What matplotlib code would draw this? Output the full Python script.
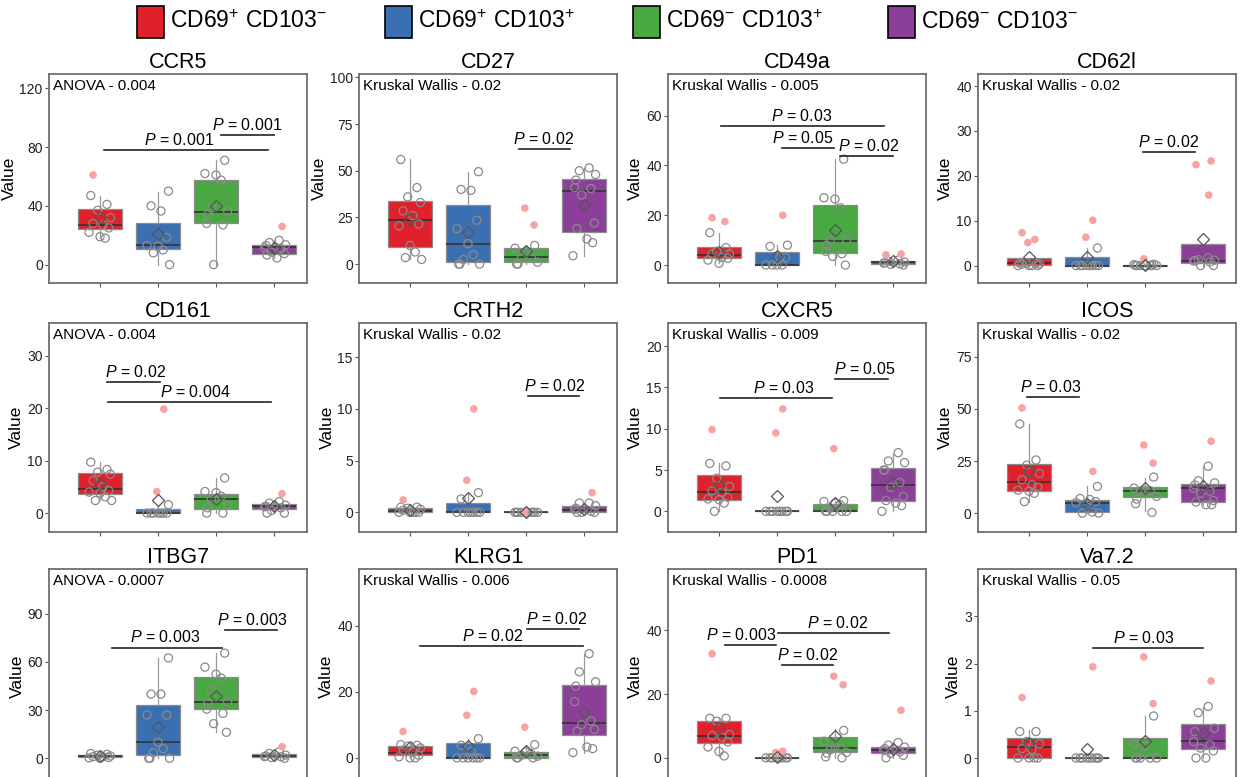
import matplotlib
matplotlib.use('Agg')
import matplotlib.pyplot as plt
from matplotlib.patches import Rectangle

plt.rcParams['font.family'] = ['Liberation Sans', 'DejaVu Sans']
plt.rcParams['mathtext.fontset'] = 'custom'
plt.rcParams['mathtext.rm'] = 'Liberation Sans'
plt.rcParams['mathtext.it'] = 'Liberation Sans:italic'
plt.rcParams['mathtext.bf'] = 'Liberation Sans:bold'

# ---------------- data ----------------
groups = [r'CD69$^{+}$ CD103$^{-}$', r'CD69$^{+}$ CD103$^{+}$',
          r'CD69$^{-}$ CD103$^{+}$', r'CD69$^{-}$ CD103$^{-}$']
colors = ['#E0202A', '#3A70B2', '#4AA843', '#8B3F98']

# box stats per group: (whisker low, q1, median, q3, whisker high, mean)
# significance: (x start, x end, height, p, label centre)
ccr5_box = [(18, 24.3, 27.3, 38.0, 47, 32.3), (0, 10.9, 13.2, 28.0, 49.5, 20.5),
            (0, 28.0, 35.5, 57.7, 71, 40), (4.5, 7.5, 12.0, 13.6, 16.5, 11.5)]
ccr5_pts = [[47, 41, 37, 32, 28, 27, 25, 22, 19, 18], [50, 40, 36.5, 18.5, 13, 12.5, 10, 8, 0],
            [71, 62, 61, 57.5, 38.5, 36.5, 34, 28, 27, 0], [16.5, 15, 13.5, 13, 11.5, 11, 8.5, 7.5, 6.5, 4.5]]
ccr5_out = [[61], [], [], [26]]
ccr5_sig = [(1.07, 3.89, 77.7, '0.001', 2.36), (3.09, 4.0, 88.2, '0.001', 3.53)]

cd27_box = [(2.5, 9.0, 23.8, 33.8, 56.3, 24.4), (0, 1.1, 11.0, 31.4, 49.3, 17),
            (0, 0.9, 3.8, 8.8, 10.3, 7), (4.3, 17.3, 39, 45.5, 51.3, 31.8)]
cd27_pts = [[56, 41, 36, 33, 28.5, 26, 21.5, 20.5, 10, 6.5, 3.5, 2.5],
            [49.5, 40, 39.5, 23.5, 19, 11, 5, 2.5, 0, 0, 0],
            [10, 8.5, 7, 3.5, 3, 1, 0, 0],
            [51.5, 50, 48, 45, 41, 40.5, 37, 22, 19, 13.5, 11.5, 4.5]]
cd27_out = [[], [], [30, 21], []]
cd27_sig = [(2.88, 3.76, 61.4, '0.02', 3.31)]

cd49a_box = [(0.7, 2.7, 3.9, 7.2, 12.9, 5.4), (0, 0, 0, 5.4, 8.1, 3.7),
             (0, 5, 9.6, 24, 42.7, 14.2), (0, 0.4, 1.1, 1.8, 2.5, 1.5)]
cd49a_pts = [[13, 7, 5.5, 4.5, 4.5, 3, 2.7, 2, 0.7], [8, 7.5, 3, 3, 0, 0, 0, 0],
             [42.5, 27, 26.5, 23, 10, 10, 8, 5.5, 4.5, 3.5, 0], [2, 1.5, 1.2, 1, 0.8, 0.5, 0.3, 0]]
cd49a_out = [[19, 17.5], [20], [], [4.5, 4.1]]
cd49a_sig = [(1.03, 3.85, 55.9, '0.03', 2.42), (2.08, 2.98, 47.1, '0.05', 2.44),
             (3.08, 4.0, 43.8, '0.02', 3.58)]

cd62l_box = [(0, 0.1, 0.6, 1.6, 1.6, 1.9), (0, 0, 0, 2.0, 3.9, 1.9),
             (0, 0, 0, 0.1, 0.1, 0.15), (0, 0.5, 1.1, 4.9, 4.9, 5.8)]
cd62l_pts = [[0.5, 0.5, 0.5, 0.3, 0.3, 0, 0, 0, 0], [3.9, 0, 0, 0, 0, 0, 0, 0, 0],
             [0.3, 0.2, 0, 0, 0, 0, 0, 0, 0], [1.7, 1.3, 1.2, 1.1, 1.0, 0.8, 0, 0]]
cd62l_out = [[7.3, 5.8, 5.1], [10.1, 6.3], [1.5], [23.3, 22.5, 15.7]]
cd62l_sig = [(2.97, 3.87, 25.4, '0.02', 3.41)]

cd161_box = [(2.4, 3.6, 4.6, 7.6, 9.7, 5.5), (0, 0, 0.1, 0.8, 1.4, 2.4),
             (0, 0.8, 2.7, 3.6, 6.6, 2.7), (0, 0.8, 1.3, 1.8, 2.3, 1.4)]
cd161_pts = [[9.7, 8.3, 7.8, 7.4, 6.2, 5, 4.3, 4, 3.8, 3.1, 2.4, 2.4], [1.6, 0, 0, 0, 0, 0, 0, 0],
             [6.7, 4.1, 3.9, 3.2, 2.7, 1.5, 1, 0, 0], [2.2, 1.9, 1.5, 1.3, 1.2, 1, 0.5, 0, 0]]
cd161_out = [[], [19.8, 4.1], [], [3.7]]
cd161_sig = [(1.12, 2.03, 24.9, '0.02', 1.61), (1.13, 3.95, 21.2, '0.004', 2.64)]

crth2_box = [(0, 0, 0.1, 0.42, 0.5, 0.25), (0, 0, 0, 0.9, 1.9, 1.4),
             (0, 0, 0, 0, 0, 0.05), (0, 0.03, 0.26, 0.58, 0.9, 0.35)]
crth2_pts = [[0.5, 0.5, 0.4, 0.3, 0.2, 0, 0, 0, 0, 0], [1.9, 1.3, 0, 0, 0, 0, 0, 0, 0],
             [0, 0, 0, 0, 0, 0, 0, 0, 0], [0.9, 0.9, 0.65, 0.4, 0.3, 0.1, 0, 0, 0]]
crth2_out = [[1.2], [10, 3.1], [0.1], [1.9]]
crth2_sig = [(3.03, 3.92, 11.2, '0.02', 3.5)]

cxcr5_box = [(0, 1.4, 2.4, 4.4, 5.8, 3.2), (0, 0, 0, 0, 0, 1.9),
             (0, 0, 0.1, 0.9, 1.3, 1.0), (0, 1.2, 3.2, 5.3, 7.0, 3.4)]
cxcr5_pts = [[5.8, 5.5, 4, 3, 2.5, 2.3, 1.7, 1.5, 1.4, 1, 0], [0, 0, 0, 0, 0, 0, 0, 0],
             [1.3, 1.2, 1, 0.8, 0.4, 0, 0, 0, 0, 0], [7.1, 6.1, 5.9, 5, 5, 3.5, 2.9, 1.8, 1.3, 1, 0.7, 0]]
cxcr5_out = [[9.9], [12.4, 9.5], [7.6], []]
cxcr5_sig = [(1.02, 2.95, 13.7, '0.03', 2.12), (3.0, 3.91, 16.0, '0.05', 3.52)]

icos_box = [(5.3, 10.4, 14.7, 23.7, 42.8, 20), (0, 0.3, 4.8, 6.4, 12.8, 4.5),
            (0.8, 7.5, 10.7, 12.5, 16.8, 12), (4, 5.3, 12, 14.1, 22.4, 12.8)]
icos_pts = [[42.8, 25.5, 23, 19, 16, 13.5, 12.5, 11, 10.5, 9.5, 5.5], [12.8, 7, 6.5, 5.5, 5, 4, 0.5, 0, 0],
            [17.3, 12, 11, 10.7, 10.5, 8, 6.7, 4.5, 0.3], [22.5, 15.5, 14.5, 13.5, 12, 10.5, 9.5, 6, 5.3, 4, 4]]
icos_out = [[50.5], [20], [32.7, 24], [34.5]]
icos_sig = [(0.96, 1.87, 55.8, '0.03', 1.38)]

itbg7_box = [(0, 0.6, 1.5, 2.1, 3, 1.3), (0, 2.1, 10, 33.3, 62.4, 19.8),
             (16.2, 30.6, 34.9, 50.5, 65.5, 38.7), (0, 0.6, 1.5, 2.5, 4, 2)]
itbg7_pts = [[3, 2.5, 2, 1.5, 1, 1, 0.5, 0.3, 0], [62.5, 40, 40, 27, 27, 10, 6, 3.5, 0, 0, 0],
             [65.5, 56.8, 52.4, 50, 42.6, 35.3, 34.5, 30.6, 28, 21.6, 16.2], [4, 3, 2, 1.5, 1, 1, 0.5, 0]]
itbg7_out = [[], [], [], [7.3]]
itbg7_sig = [(1.2, 3.11, 69, '0.003', 2.12), (3.15, 4.05, 80, '0.003', 3.62)]

klrg1_box = [(0, 0.8, 1.5, 3.5, 4.3, 3.3), (0, 0, 0, 4.6, 5.8, 3.6),
             (0, 0, 0.8, 1.8, 3.6, 2), (1.6, 6.8, 10.6, 21.9, 31.5, 13.9)]
klrg1_pts = [[4, 3.8, 3.5, 3, 2.3, 1.8, 0.8, 0.3, 0, 0], [5.8, 3.8, 2, 0, 0, 0, 0, 0, 0],
             [4, 2, 1.8, 1.3, 0.8, 0.5, 0, 0, 0], [31.5, 26, 23, 21.7, 17, 11.2, 10, 8.6, 8, 3.3, 2.8, 1.6]]
klrg1_out = [[8], [20.1, 12.9], [9.3], []]
klrg1_sig = [(1.17, 3.99, 33.7, '0.02', 2.43), (3.01, 3.91, 39.0, '0.02', 3.52)]

pd1_box = [(0.6, 4.5, 6.8, 11.6, 12.6, 9.2), (0, 0, 0, 0, 0, 0.3),
           (0, 1.7, 3.1, 6.4, 8.9, 6.8), (0, 1.6, 2.4, 3.4, 5, 2.9)]
pd1_pts = [[12.4, 12.4, 11.5, 7.3, 7, 6.5, 5, 3.4, 2, 0.6], [0, 0, 0, 0, 0, 0, 0, 0],
           [8.6, 5.2, 3.6, 3, 2.6, 1.7, 1.5, 0.3, 0], [4.8, 4, 3.4, 2.9, 2.4, 1.9, 1.4, 0.8, 0]]
pd1_out = [[32.6], [2.1, 1.7], [25.6, 22.9], [14.9]]
pd1_sig = [(1.1, 1.99, 35.4, '0.003', 1.38), (2.01, 3.94, 39.1, '0.02', 3.04),
           (2.08, 2.96, 29.0, '0.02', 2.53)]

va72_box = [(0, 0, 0.24, 0.42, 0.6, 0.32), (0, 0, 0, 0, 0, 0.2),
            (0, 0, 0, 0.42, 0.89, 0.37), (0, 0.2, 0.35, 0.72, 1.09, 0.53)]
va72_pts = [[0.56, 0.56, 0.35, 0.3, 0.2, 0.18, 0, 0, 0, 0], [0, 0, 0, 0, 0, 0, 0, 0, 0],
            [0.89, 0.3, 0.25, 0, 0, 0, 0, 0], [1.09, 0.96, 0.63, 0.56, 0.35, 0.28, 0.21, 0.15, 0, 0]]
va72_out = [[1.28], [1.93], [2.14, 1.15], [1.63]]
va72_sig = [(2.1, 4.0, 2.33, '0.03', 2.97)]

titles = ['CCR5', 'CD27', 'CD49a', 'CD62l', 'CD161', 'CRTH2', 'CXCR5', 'ICOS',
          'ITBG7', 'KLRG1', 'PD1', 'Va7.2']
tests = ['ANOVA - 0.004', 'Kruskal Wallis - 0.02', 'Kruskal Wallis - 0.005', 'Kruskal Wallis - 0.02',
         'ANOVA - 0.004', 'Kruskal Wallis - 0.02', 'Kruskal Wallis - 0.009', 'Kruskal Wallis - 0.02',
         'ANOVA - 0.0007', 'Kruskal Wallis - 0.006', 'Kruskal Wallis - 0.0008', 'Kruskal Wallis - 0.05']
yticks = [[0, 40, 80, 120], [0, 25, 50, 75, 100], [0, 20, 40, 60], [0, 10, 20, 30, 40],
          [0, 10, 20, 30], [0, 5, 10, 15], [0, 5, 10, 15, 20], [0, 25, 50, 75],
          [0, 30, 60, 90], [0, 20, 40], [0, 20, 40], [0, 1, 2, 3]]
ylims = [(-12.5, 129.7), (-10.1, 101.8), (-7.2, 76.7), (-3.9, 42.7),
         (-3.6, 36.2), (-1.9, 18.3), (-2.5, 22.8), (-9.1, 91.3),
         (-16.0, 117.9), (-7.9, 57.1), (-8.2, 59.2), (-0.55, 4.0)]

boxes = [ccr5_box, cd27_box, cd49a_box, cd62l_box, cd161_box, crth2_box, cxcr5_box, icos_box,
         itbg7_box, klrg1_box, pd1_box, va72_box]
points = [ccr5_pts, cd27_pts, cd49a_pts, cd62l_pts, cd161_pts, crth2_pts, cxcr5_pts, icos_pts,
          itbg7_pts, klrg1_pts, pd1_pts, va72_pts]
outliers = [ccr5_out, cd27_out, cd49a_out, cd62l_out, cd161_out, crth2_out, cxcr5_out, icos_out,
            itbg7_out, klrg1_out, pd1_out, va72_out]
sigs = [ccr5_sig, cd27_sig, cd49a_sig, cd62l_sig, cd161_sig, crth2_sig, cxcr5_sig, icos_sig,
        itbg7_sig, klrg1_sig, pd1_sig, va72_sig]

# ---------------- layout / style ----------------
W, H = 1241, 777
col_left = [49, 359, 668, 978]
row_top = [74, 323, 569]
row_h = [209, 209, 215]
ax_w = 258
JIT = [-0.16, 0.12, -0.04, 0.18, -0.12, 0.05, 0.15, -0.19, 0.0, 0.09, -0.08, 0.2, -0.14]
OJIT = [-0.12, 0.1, -0.02, 0.14]
leg_x = [137, 385, 633, 888]

fig = plt.figure(figsize=(W / 100, H / 100), dpi=100)

for k in range(12):
    r, c = divmod(k, 4)
    ax = fig.add_axes([col_left[c] / W, 1 - (row_top[r] + row_h[r]) / H, ax_w / W, row_h[r] / H])
    box = boxes[k]
    stats = [dict(whislo=b[0], q1=b[1], med=b[2], q3=b[3], whishi=b[4], fliers=[]) for b in box]
    bp = ax.bxp(stats, positions=[1, 2, 3, 4], widths=0.76, patch_artist=True, showcaps=False,
                showfliers=False,
                boxprops=dict(edgecolor='#8c8c8c', linewidth=0.9),
                whiskerprops=dict(color='#9a9a9a', linewidth=0.9),
                medianprops=dict(color='#333333', linewidth=1.2))
    for patch, col in zip(bp['boxes'], colors):
        patch.set_facecolor(col)
    for g in range(4):
        pts = points[k][g]
        xs = [g + 1 + JIT[(i + 3 * g) % len(JIT)] for i in range(len(pts))]
        ax.scatter(xs, pts, s=34, facecolors='none', edgecolors='#8a8a8a', linewidths=0.9, zorder=3)
        out = outliers[k][g]
        if out:
            xo = [g + 1 + OJIT[(i + g) % len(OJIT)] for i in range(len(out))]
            ax.scatter(xo, out, s=30, color='#F7A3A3', edgecolors='none', zorder=3)
        ax.plot([g + 1], [box[g][5]], marker='D', ms=6.5, mfc='none', mec='#555555', mew=0.9, zorder=4)

    for (x1, x2, y, p, xl) in sigs[k]:
        ax.plot([x1, x2], [y, y], color='#222222', lw=1.2, zorder=5)
        ax.annotate(r'$\it{P}$ = ' + p, xy=(xl, y), xytext=(0, 1.5),
                    textcoords='offset points', ha='center', va='bottom', fontsize=11.5)

    ax.text(0.015, 0.975 if r < 2 else 0.978, tests[k], transform=ax.transAxes,
            ha='left', va='top', fontsize=11)
    ax.set_xlim(0.12, 4.57)
    ax.set_ylim(*ylims[k])
    ax.set_yticks(yticks[k])
    ax.set_xticks([1, 2, 3, 4])
    ax.set_xticklabels([])
    ax.tick_params(axis='both', length=3, width=0.8, color='#555555', labelsize=10,
                   labelcolor='#222222', pad=1.5)
    for s in ax.spines.values():
        s.set_color('#6e6e6e')
        s.set_linewidth(1.3)
    ax.set_title(titles[k], fontsize=15.5, pad=4)
    ax.set_ylabel('Value', fontsize=12.5, labelpad=2)

# legend row: coloured squares with black border + labels
for x0, col, lab in zip(leg_x, colors, groups):
    fig.add_artist(Rectangle((x0 / W, 1 - 38 / H), 27 / W, 32 / H, transform=fig.transFigure,
                             facecolor=col, edgecolor='black', linewidth=1.2))
    fig.text((x0 + 33) / W, 1 - 22 / H, lab, ha='left', va='center', fontsize=16.5)

fig.savefig('out.png', dpi=100)
